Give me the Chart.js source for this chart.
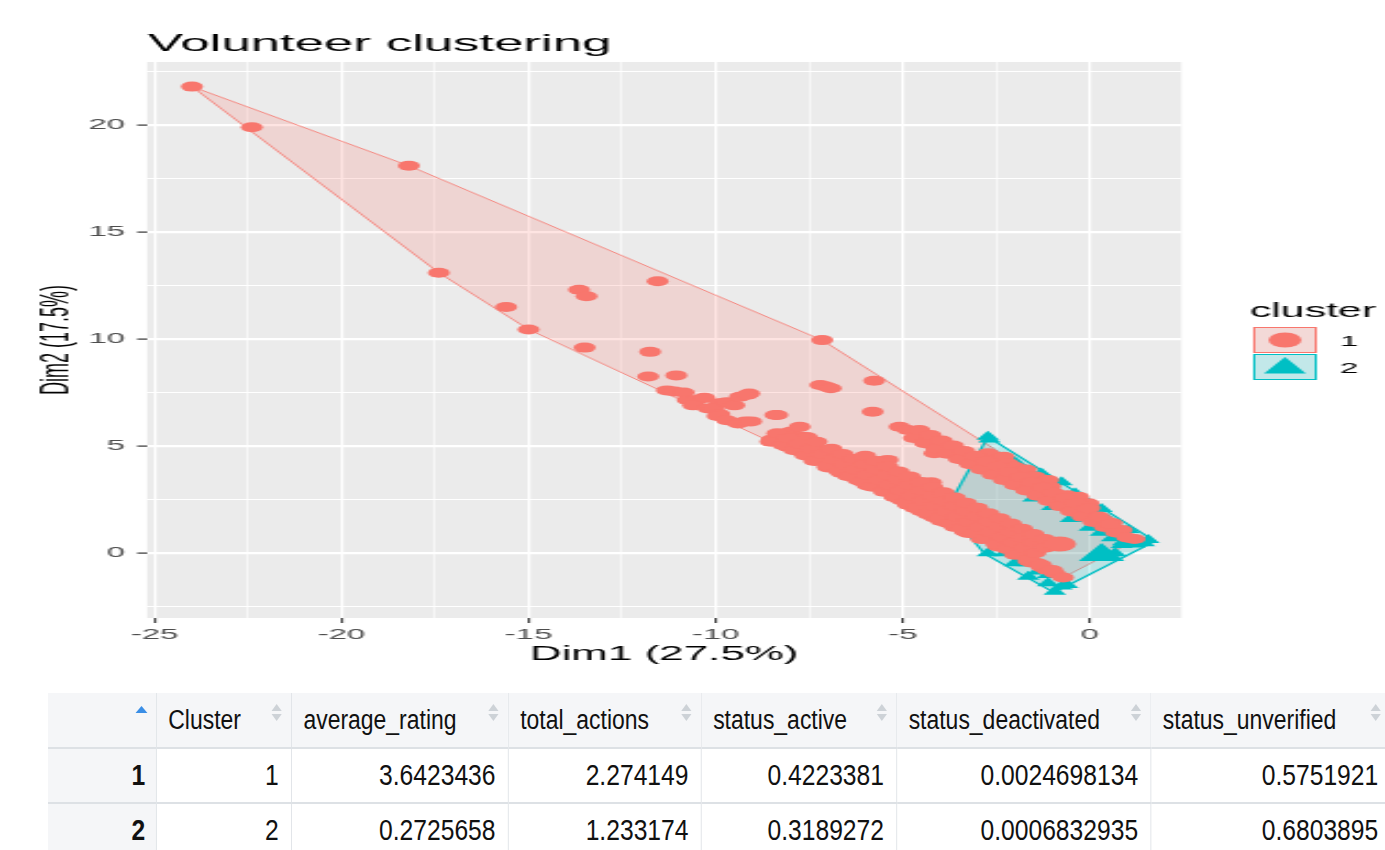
<!DOCTYPE html>
<html>
<head>
<meta charset="utf-8">
<script src="https://cdn.jsdelivr.net/npm/chart.js@4.4.0/dist/chart.umd.min.js"></script>
<style>
  body { margin: 0; background: #fff; width: 1385px; height: 850px; overflow: hidden; position: relative; }
  /* the source picture is a horizontally stretched screenshot, so the chart is drawn narrow and stretched */
  #wrap { position: absolute; left: 0; top: 0; width: 630px; height: 690px; transform: scaleX(2.1984); transform-origin: 0 0; }
  /* the table in the source is condensed: draw it wider and squeeze it */
  #tw { position: absolute; left: 48px; top: 693px; transform: scaleX(0.85); transform-origin: 0 0; }
  #tbl { border-collapse: collapse; table-layout: fixed; width: 1579px;
         font-family: "Liberation Sans", Arial, sans-serif; color: #111; }
  #tbl th, #tbl td { height: 55px; padding: 0 14px; box-sizing: border-box; border-left: 1px solid #DDE1E5;
         border-bottom: 2px solid #DDE1E5; white-space: nowrap; overflow: hidden; }
  #tbl th { background: #F5F6F8; text-align: left; font-weight: normal; font-size: 27px; position: relative; }
  #tbl td { text-align: right; background: #fff; font-size: 29px; }
  #tbl th:first-child, #tbl td:first-child { border-left: none; background: #F5F6F8; }
  #tbl td.rn { font-weight: bold; padding-right: 12px; }
  .sort { position: absolute; right: 10.6px; top: 11px; width: 12px; height: 18px; }
  .sort:before { content: ""; position: absolute; left: 0; top: 0; border-left: 6px solid transparent;
         border-right: 6px solid transparent; border-bottom: 7px solid #CDD2D7; }
  .sort:after { content: ""; position: absolute; left: 0; top: 10px; border-left: 6px solid transparent;
         border-right: 6px solid transparent; border-top: 7px solid #CDD2D7; }
  .asc { position: absolute; right: 9.4px; top: 13px; border-left: 7px solid transparent;
         border-right: 7px solid transparent; border-bottom: 7px solid #3A8EE6; }
</style>
</head>
<body>
<div id="wrap"><canvas id="myChart" width="630" height="690" style="width:630px;height:690px"></canvas></div>
<div id="tw">
<table id="tbl">
  <colgroup>
    <col style="width:127px"><col style="width:159px"><col style="width:255px"><col style="width:227px">
    <col style="width:230px"><col style="width:299px"><col style="width:282px">
  </colgroup>
  <thead><tr id="headRow"></tr></thead>
  <tbody id="bodyRows"></tbody>
</table>
</div>
<script>
  const red = '#F8766D';
  const teal = '#00BFC4';

  // cluster 1 observations (Dim1, Dim2)
  const cluster1Points = [
    [-24.0, 21.8], [-22.4, 19.9], [-18.2, 18.1], [-17.4, 13.1], [-15.6, 11.5], [-15.0, 10.45],
    [-13.65, 12.3], [-13.45, 12.0], [-11.55, 12.7], [-13.5, 9.6], [-11.75, 9.4], [-7.15, 9.95],
    [-11.8, 8.25], [-11.05, 8.3], [-11.3, 7.6], [-11.1, 7.55], [-10.85, 7.5], [-10.75, 7.15],
    [-10.5, 7.15], [-10.3, 7.25], [-10.6, 6.9], [-10.2, 6.75], [-9.9, 7.0], [-10.05, 6.75],
    [-9.7, 7.05], [-9.5, 6.9], [-9.35, 7.3], [-9.1, 7.45], [-9.15, 7.4], [-9.9, 6.5],
    [-9.95, 6.4], [-9.7, 6.2], [-9.4, 6.05], [-9.2, 6.15], [-9.05, 6.15], [-8.4, 6.45], [-8.35, 6.45],
    [-7.2, 7.85], [-7.05, 7.78], [-6.92, 7.7], [-5.76, 8.05], [-5.8, 6.6],
    [-8.0, 5.67], [-7.75, 5.9], [-7.72, 5.44], [-7.56, 5.42], [-8.53, 5.2], [-8.48, 5.25],
    [-8.08, 4.97], [-7.63, 5.36], [-7.63, 4.66], [-7.0, 4.66], [-7.18, 4.81], [-7.55, 4.66], [-7.18, 4.5],
    [-7.36, 4.3], [-7.0, 4.0], [-6.83, 4.03], [-6.65, 3.75], [-6.65, 4.35], [-6.62, 4.02],
    [-6.47, 3.72], [-6.47, 3.6], [-6.2, 3.41], [-6.11, 3.88], [-5.94, 3.15], [-5.84, 3.55],
    [-5.76, 3.41], [-5.76, 4.19], [-5.58, 3.1], [-5.58, 4.03], [-5.4, 2.94], [-5.4, 3.41],
    [-5.4, 4.35], [-5.28, 3.08], [-5.22, 2.63], [-5.04, 2.48], [-4.86, 2.25], [-4.69, 2.62],
    [-4.68, 2.1], [-4.68, 2.63], [-4.6, 2.16], [-4.5, 1.95], [-4.32, 1.8], [-4.24, 2.32],
    [-4.15, 1.66], [-4.13, 2.15], [-3.97, 1.5], [-3.79, 1.4], [-3.61, 1.85], [-3.61, 1.22],
    [-3.54, 1.68], [-3.34, 1.0], [-3.25, 0.93], [-3.07, 1.39], [-2.98, 1.21], [-2.9, 0.65],
    [-2.63, 0.92], [-2.45, 0.3], [-2.39, 0.75], [-2.18, 0.45], [-2.01, 0.14], [-2.0, -0.08],
    [-1.73, -0.01], [-1.64, -0.38], [-1.53, -0.45], [-1.38, -0.48], [-1.29, -0.65],
    [-1.15, -0.78], [-0.93, -0.95], [-0.71, -1.15],
    [-5.08, 5.9], [-4.86, 5.75], [-4.5, 5.43], [-4.06, 5.12], [-3.94, 4.81], [-3.61, 4.66],
    [-3.35, 4.35], [-3.25, 4.35], [-2.9, 4.03], [-2.72, 4.66], [-2.6, 4.35], [-2.45, 3.88],
    [-2.3, 4.5], [-2.18, 4.19], [-2.01, 4.03], [-2.0, 3.72], [-1.82, 3.26], [-1.7, 3.9],
    [-1.55, 3.57], [-1.45, 3.57], [-1.29, 3.1], [-1.2, 3.4], [-1.11, 3.41], [-1.05, 3.1],
    [-0.93, 2.63], [-0.6, 2.7], [-0.59, 2.48], [-0.57, 2.32], [-0.3, 2.63], [-0.21, 2.01],
    [-0.11, 2.01], [-0.03, 2.32], [0.0, 2.1], [0.14, 1.7], [0.38, 1.54], [0.5, 1.39],
    [0.6, 1.4], [0.86, 1.07], [1.2, 0.65], [-4.15, 4.66], [-5.4, 3.9], [-4.24, 3.3],
    // dense lower band
    [-8.5, 5.3], [-8.2, 5.05], [-7.9, 4.8], [-7.6, 4.56], [-7.3, 4.32], [-7.0, 4.07], [-6.7, 3.83],
    [-6.4, 3.59], [-6.1, 3.34], [-5.8, 3.1], [-5.5, 2.86], [-5.2, 2.61], [-4.9, 2.37], [-4.6, 2.13],
    [-4.3, 1.88], [-4.0, 1.64], [-3.7, 1.39], [-3.4, 1.15], [-3.1, 0.91], [-2.8, 0.66], [-2.5, 0.42],
    [-2.2, 0.18], [-1.9, -0.07], [-1.6, -0.31], [-1.3, -0.55], [-1.0, -0.8],
    [-8.35, 5.6], [-8.05, 5.36], [-7.75, 5.11], [-7.45, 4.87], [-7.15, 4.63], [-6.85, 4.38],
    [-6.55, 4.14], [-6.25, 3.9], [-5.95, 3.65], [-5.65, 3.41], [-5.35, 3.17], [-5.05, 2.92],
    [-4.75, 2.68], [-4.45, 2.44], [-4.15, 2.19], [-3.85, 1.95], [-3.55, 1.7], [-3.25, 1.46],
    [-2.95, 1.22], [-2.65, 0.97], [-2.35, 0.73], [-2.05, 0.49], [-1.75, 0.24], [-1.45, 0.0],
    [-7.3, 5.2], [-6.9, 4.87], [-6.6, 4.63], [-6.3, 4.39], [-6.0, 4.15], [-5.7, 3.9], [-5.4, 3.66],
    [-5.1, 3.41], [-4.8, 3.17], [-4.5, 2.93], [-4.2, 2.68], [-3.9, 2.44], [-3.6, 2.2], [-3.3, 1.95],
    [-3.0, 1.71], [-2.7, 1.46], [-2.4, 1.22], [-2.1, 0.97], [-1.8, 0.73], [-1.5, 0.49], [-1.2, 0.24],
    [-6.0, 4.54], [-5.7, 4.3], [-5.4, 4.05], [-5.1, 3.81], [-4.8, 3.57], [-4.5, 3.32], [-4.2, 3.08],
    [-3.9, 2.84], [-3.6, 2.59], [-3.3, 2.35], [-3.0, 2.11], [-2.7, 1.86], [-2.4, 1.62], [-2.1, 1.38],
    [-1.8, 1.13], [-1.5, 0.89], [-1.2, 0.65],
    // dense upper right band
    [-4.7, 5.37], [-4.4, 5.13], [-4.1, 4.88], [-3.8, 4.64], [-3.5, 4.39], [-3.2, 4.15], [-2.9, 3.9],
    [-2.6, 3.66], [-2.3, 3.41], [-2.0, 3.17], [-1.7, 2.92], [-1.4, 2.68], [-1.1, 2.43], [-0.8, 2.19],
    [-0.5, 1.94], [-0.2, 1.7], [0.1, 1.45], [0.4, 1.21], [0.7, 0.96], [1.0, 0.72],
    [-4.55, 5.75], [-4.25, 5.51], [-3.95, 5.26], [-3.65, 5.02], [-3.35, 4.77], [-3.05, 4.53],
    [-2.75, 4.28], [-2.45, 4.04], [-2.15, 3.79], [-1.85, 3.55], [-1.55, 3.3], [-1.25, 3.06],
    [-0.95, 2.81], [-0.65, 2.57], [-0.35, 2.32], [-0.05, 2.08], [0.25, 1.7], [0.55, 1.35]
  ];

  // cluster 2 observations (Dim1, Dim2)
  const cluster2Points = [
    [-2.72, 5.43], [-2.68, 5.3], [-2.98, 4.19], [-2.72, 4.27], [-2.36, 4.19], [-2.0, 4.25],
    [-1.73, 3.88], [-1.29, 3.72], [-0.75, 3.3], [-0.39, 2.79], [-0.03, 2.32], [0.32, 2.05],
    [-0.21, 1.62], [0.14, 1.54], [0.5, 1.54], [0.68, 1.07], [1.04, 1.07], [1.21, 0.61],
    [1.57, 0.61], [0.86, 0.37], [0.68, -0.01],
    [-1.5, 2.55], [-1.0, 2.15], [-0.5, 1.59], [0.0, 1.18], [0.3, 0.94], [0.6, 0.69],
    [0.9, 0.5], [1.2, 0.4], [1.45, 0.45],
    [-3.79, 2.16], [-3.43, 1.7], [-2.9, 1.23], [-2.63, 0.69], [-2.72, -0.01], [-2.27, -0.01],
    [-2.0, -0.48], [-1.64, -0.48], [-1.38, -0.87], [-1.11, -1.03], [-1.64, -1.11],
    [-1.11, -1.42], [-0.75, -1.57], [-0.93, -1.81], [-0.6, -1.5]
  ];

  const center1 = [-0.8, 0.42];
  const center2 = [0.32, -0.09];

  // convex hulls of the two clusters
  const hull1 = [[-24.0, 21.8], [-18.2, 18.1], [-7.15, 9.95], [1.35, 0.55], [1.0, 0.4], [-0.71, -1.15],
                 [-15.0, 10.45], [-17.4, 13.1]];
  const hull2 = [[-2.72, 5.43], [-3.83, 2.04], [-2.8, -0.05], [-0.95, -1.85], [1.75, 0.55]];

  const xMajor = [-25, -20, -15, -10, -5, 0];
  const yMajor = [0, 5, 10, 15, 20];

  const tableHeaders = ['Cluster', 'average_rating', 'total_actions', 'status_active', 'status_deactivated', 'status_unverified'];
  const rowNames = ['1', '2'];
  const colCluster = ['1', '2'];
  const colAverageRating = ['3.6423436', '0.2725658'];
  const colTotalActions = ['2.274149', '1.233174'];
  const colStatusActive = ['0.4223381', '0.3189272'];
  const colStatusDeactivated = ['0.0024698134', '0.0006832935'];
  const colStatusUnverified = ['0.5751921', '0.6803895'];

  const toXY = arr => arr.map(p => ({x: p[0], y: p[1]}));
  const closed = arr => toXY(arr.concat([arr[0]]));
  const isMajor = (list, v) => list.some(m => Math.abs(m - v) < 1e-6);

  const font = '"Liberation Sans", Arial, sans-serif';

  const panelBg = {
    id: 'panelBg',
    beforeDraw(chart) {
      const {ctx, chartArea: a} = chart;
      ctx.save();
      ctx.fillStyle = '#EBEBEB';
      ctx.fillRect(a.left, a.top, a.right - a.left, a.bottom - a.top);
      ctx.restore();
    }
  };

  const titleAndLegend = {
    id: 'titleAndLegend',
    afterDraw(chart) {
      const ctx = chart.ctx;
      ctx.save();
      ctx.fillStyle = '#000';
      ctx.textBaseline = 'alphabetic';
      ctx.font = '24px ' + font;
      ctx.fillText('Volunteer clustering', 67.3, 51);

      ctx.font = '19.5px ' + font;
      ctx.fillText('cluster', 568.5, 317);

      // legend keys
      ctx.lineWidth = 1;
      ctx.fillStyle = 'rgb(243,217,215)';
      ctx.strokeStyle = red;
      ctx.fillRect(570, 327, 29, 26);
      ctx.strokeRect(570.5, 327.5, 28, 25);
      ctx.fillStyle = 'rgb(194,232,233)';
      ctx.strokeStyle = teal;
      ctx.fillRect(570, 354, 29, 26);
      ctx.strokeRect(570.5, 354.5, 28, 25);

      ctx.fillStyle = red;
      ctx.beginPath();
      ctx.arc(584.5, 340, 7.5, 0, Math.PI * 2);
      ctx.fill();

      ctx.fillStyle = teal;
      const r = 11, cx = 584.5, cy = 368;
      ctx.beginPath();
      ctx.moveTo(cx, cy - r);
      ctx.lineTo(cx + r * Math.sin(2 * Math.PI / 3), cy + r / 2);
      ctx.lineTo(cx - r * Math.sin(2 * Math.PI / 3), cy + r / 2);
      ctx.closePath();
      ctx.fill();

      ctx.fillStyle = '#000';
      ctx.font = '15px ' + font;
      ctx.textBaseline = 'middle';
      ctx.fillText('1', 609.5, 342);
      ctx.fillText('2', 609.5, 369);
      ctx.restore();
    }
  };

  const data = {
    datasets: [
      {label: 'center2', data: toXY([center2]), pointStyle: 'triangle', pointRadius: 12,
       backgroundColor: teal, borderWidth: 0, order: 0},
      {label: 'center1', data: toXY([center1]), pointStyle: 'circle', pointRadius: 7.5,
       backgroundColor: red, borderWidth: 0, order: 1},
      {label: '1', data: toXY(cluster1Points), pointStyle: 'circle', pointRadius: 5,
       backgroundColor: red, borderWidth: 0, order: 2},
      {label: '2', data: toXY(cluster2Points), pointStyle: 'triangle', pointRadius: 6,
       backgroundColor: teal, borderWidth: 0, order: 3},
      {label: 'hull2', data: closed(hull2), showLine: true, fill: 'shape', tension: 0,
       backgroundColor: 'rgba(0,191,196,0.2)', borderColor: teal, borderWidth: 1.3, pointRadius: 0, order: 4},
      {label: 'hull1', data: closed(hull1), showLine: true, fill: 'shape', tension: 0,
       backgroundColor: 'rgba(248,118,109,0.2)', borderColor: red, borderWidth: 0.8, pointRadius: 0, order: 5}
    ]
  };

  const config = {
    type: 'scatter',
    data: data,
    plugins: [panelBg, titleAndLegend],
    options: {
      responsive: false,
      devicePixelRatio: 1,
      animation: false,
      events: [],
      layout: {padding: {left: 0, top: 62, right: 92.7, bottom: 0}},
      plugins: {legend: {display: false}, tooltip: {enabled: false}},
      scales: {
        x: {
          type: 'linear', min: -25.2, max: 2.45,
          border: {display: false},
          grid: {
            color: '#fff',
            lineWidth: c => isMajor(xMajor, c.tick.value) ? 1.2 : 0.6,
            tickColor: c => isMajor(xMajor, c.tick.value) ? '#333' : 'rgba(0,0,0,0)',
            tickWidth: 1, tickLength: 5
          },
          ticks: {
            stepSize: 2.5, includeBounds: false, autoSkip: false, maxRotation: 0, padding: 3,
            color: '#4D4D4D', font: {size: 15, family: font},
            callback: v => isMajor(xMajor, v) ? String(v) : ''
          },
          title: {display: true, text: 'Dim1 (27.5%)', color: '#000', font: {size: 20, family: font},
                  padding: {top: 0, bottom: 24}},
          afterFit: s => { s.height = 72; }
        },
        y: {
          type: 'linear', min: -3.04, max: 22.95,
          border: {display: false},
          grid: {
            color: '#fff',
            lineWidth: c => isMajor(yMajor, c.tick.value) ? 2.2 : 1.1,
            tickColor: c => isMajor(yMajor, c.tick.value) ? '#333' : 'rgba(0,0,0,0)',
            tickWidth: 1.2, tickLength: 4.5
          },
          ticks: {
            stepSize: 2.5, includeBounds: false, autoSkip: false, padding: 5.5,
            color: '#4D4D4D', font: {size: 15, family: font},
            callback: v => isMajor(yMajor, v) ? String(v) : ''
          },
          title: {display: true, text: 'Dim2 (17.5%)', color: '#000', font: {size: 18, family: font},
                  padding: {top: 15.6, bottom: 0}},
          afterFit: s => { s.width = 66.9; }
        }
      }
    }
  };

  const myChart = new Chart(document.getElementById('myChart'), config);

  // table below the plot
  const headRow = document.getElementById('headRow');
  headRow.innerHTML = '<th><span class="asc"></span></th>' +
    tableHeaders.map(h => '<th>' + h + '<span class="sort"></span></th>').join('');
  const columns = [colCluster, colAverageRating, colTotalActions, colStatusActive, colStatusDeactivated, colStatusUnverified];
  document.getElementById('bodyRows').innerHTML = rowNames.map((rn, i) =>
    '<tr><td class="rn">' + rn + '</td>' + columns.map(col => '<td>' + col[i] + '</td>').join('') + '</tr>'
  ).join('');
</script>
</body>
</html>
